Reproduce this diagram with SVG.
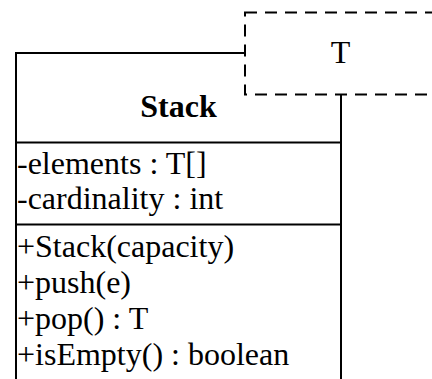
<svg xmlns="http://www.w3.org/2000/svg" width="432" height="379" viewBox="0 0 432 379">
<style>
.t{font-family:"Liberation Serif","Times New Roman",serif;font-size:32px;fill:#000}
.b{font-weight:bold}
.box{fill:#fff;stroke:#000;stroke-width:2}
.dash{fill:#fff;stroke:#000;stroke-width:2;stroke-dasharray:12 8}
</style>
<rect width="432" height="379" fill="#fff"/>
<g id="Stack">
<rect class="box" x="16" y="53" width="325" height="340"/>
<line x1="16" y1="142.5" x2="341" y2="142.5" stroke="#000" stroke-width="2"/>
<line x1="16" y1="224.5" x2="341" y2="224.5" stroke="#000" stroke-width="2"/>
<text class="t b" x="178.5" y="117" text-anchor="middle">Stack</text>
<text class="t" x="17" y="174">-elements : T[]</text>
<text class="t" x="17" y="209">-cardinality : int</text>
<text class="t" x="17" y="257">+Stack(capacity)</text>
<text class="t" x="17" y="293">+push(e)</text>
<text class="t" x="17" y="329">+pop() : T</text>
<text class="t" x="17" y="365">+isEmpty() : boolean</text>
</g>
<g id="T">
<rect class="dash" x="245" y="12.5" width="200" height="82"/>
<text class="t" x="340.5" y="63" text-anchor="middle">T</text>
</g>
<g id="connectors"/>
</svg>
